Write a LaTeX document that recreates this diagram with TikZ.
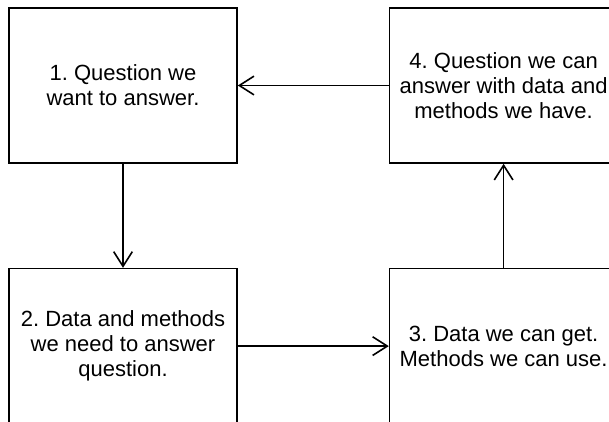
\documentclass[tikz,border=0pt]{standalone}
\usepackage{fontspec}
\setmainfont{Liberation Sans}
\usepackage{tikz}
\usetikzlibrary{arrows.meta, positioning}
\frenchspacing

\begin{document}
\begin{tikzpicture}[
  node distance = 78pt and 113.25pt,
  every node/.style = {font=\fontsize{16.5}{18.9}\selectfont},
  box/.style = {
    rectangle, draw, line width=1.2pt,
    minimum width=171pt, minimum height=116.25pt,
    align=center, inner sep=2pt
  },
  arr/.style = {-{Straight Barb[length=11pt, width=14pt]}, line width=1.2pt},
]

% Frame of the page
\useasboundingbox (0,0) rectangle (456.75pt,-315.75pt);
\clip (0,0) rectangle (456.75pt,-315.75pt);

% Question nodes
\node[box] (want) at (92.25pt,-64.125pt) {1. Question we\\want to answer.};
\node[box, right=of want] (canans) {4. Question we can\\answer with data and\\methods we have.};
\node[box, below=of want] (need) {2. Data and methods\\we need to answer\\question.};
\node[box, below=of canans] (canget) {3. Data we can get.\\Methods we can use.};

% Arrows
\draw[arr] (want) -- (need);
\draw[arr] (need) -- (canget);
\draw[arr] (canget) -- (canans);
\draw[arr] (canans) -- (want);

\end{tikzpicture}
\end{document}
